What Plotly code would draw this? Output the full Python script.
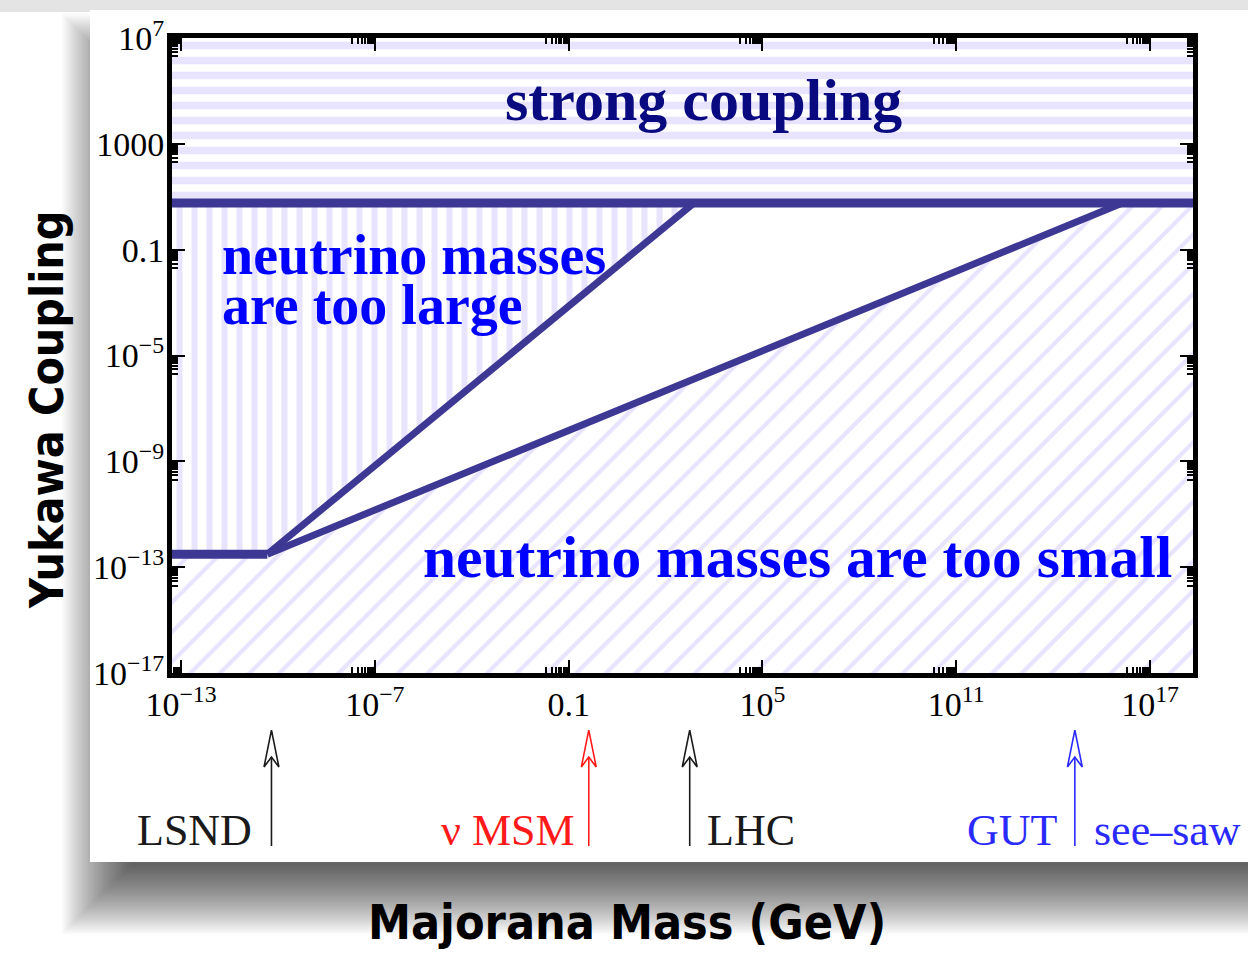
import numpy as np
import plotly.graph_objects as go

# ---- axis extents and ticks -------------------------------------------
mass_range = [10**-13.28, 10**18.33]      # Majorana mass, GeV
yuk_range = [1e-17, 1e7]                   # Yukawa coupling

x_tickvals = [1e-13, 1e-7, 1e-1, 1e5, 1e11, 1e17]
x_ticktext = ["10<sup>\u221213</sup>", "10<sup>\u22127</sup>", "0.1",
              "10<sup>5</sup>", "10<sup>11</sup>", "10<sup>17</sup>"]
y_tickvals = [1e-17, 1e-13, 1e-9, 1e-5, 1e-1, 1e3, 1e7]
y_ticktext = ["10<sup>\u221217</sup>", "10<sup>\u221213</sup>", "10<sup>\u22129</sup>",
              "10<sup>\u22125</sup>", "0.1", "1000", "10<sup>7</sup>"]

# ---- boundaries ---------------------------------------------------------
yuk_strong = 5.8                     # perturbativity limit
floor_mass = [mass_range[0], 4.7e-11]
floor_yuk = [3.1e-13, 3.1e-13]
large_mass = [4.7e-11, 7.6e2]        # above: neutrino masses too large
large_yuk = [3.1e-13, 5.8]
small_mass = [4.7e-11, 1.4e16]       # below: neutrino masses too small
small_yuk = [3.1e-13, 5.8]

# ---- physics scales marked under the axis ------------------------------
scale_names = ["LSND", "\u03bd MSM", "LHC", "GUT"]
scale_mass = [6.3e-11, 0.42, 5.6e2, 4.7e14]
scale_colors = ["#1a1a1a", "#ff1a1a", "#1a1a1a", "#2a2aff"]
scale_side = ["right", "right", "left", "right"]
scale_gap = [17, 12, 15, 15]

# ---- styling -------------------------------------------------------------
W, H = 1248, 955
ML, MR, MT, MB = 172, 55, 38, 85
PW, PH = W - ML - MR, H - MT - MB
LINE = "#3d3893"
STRIPE = "#d2c8ff"
SERIF = "Liberation Serif, Times New Roman, serif"
NARROW = "Liberation Sans Narrow, DejaVu Sans Condensed, Arial Narrow, sans-serif"


def fx(px):
    return (px - ML) / PW


def fy(py):
    return (H - MB - py) / PH


m0, m1 = mass_range
y0, y1 = yuk_range
fig = go.Figure()

# shaded regions
fig.add_trace(go.Scatter(
    x=[m0, m1, m1, m0], y=[yuk_strong, yuk_strong, y1, y1],
    fill="toself", mode="none", fillcolor="rgba(0,0,0,0)",
    fillpattern=dict(shape="-", fgcolor=STRIPE, bgcolor="white", size=15, solidity=0.5),
    hoverinfo="skip", showlegend=False))
fig.add_trace(go.Scatter(
    x=floor_mass + large_mass[1:] + [m0],
    y=floor_yuk + large_yuk[1:] + [yuk_strong],
    fill="toself", mode="none", fillcolor="rgba(0,0,0,0)",
    fillpattern=dict(shape="|", fgcolor=STRIPE, bgcolor="white", size=15, solidity=0.4),
    hoverinfo="skip", showlegend=False))
fig.add_trace(go.Scatter(
    x=[m0, m1, m1] + small_mass[::-1] + [m0],
    y=[y0, y0, yuk_strong] + small_yuk[::-1] + [floor_yuk[0]],
    fill="toself", mode="none", fillcolor="rgba(0,0,0,0)",
    fillpattern=dict(shape="/", fgcolor=STRIPE, bgcolor="white", size=21, solidity=0.2),
    hoverinfo="skip", showlegend=False))

# boundary lines
for xs, ys, w in [([m0, m1], [yuk_strong, yuk_strong], 9),
                  (floor_mass, floor_yuk, 9),
                  (large_mass, large_yuk, 7),
                  (small_mass, small_yuk, 7)]:
    fig.add_trace(go.Scatter(x=xs, y=ys, mode="lines",
                             line=dict(color=LINE, width=w),
                             hoverinfo="skip", showlegend=False))

# scale arrows with open heads, on a helper strip below the frame
tip, wing, notch, base = 0.933, 0.687, 0.753, 0.16
f = 10 ** 0.23
for m, c in zip(scale_mass, scale_colors):
    fig.add_trace(go.Scatter(
        x=[m, m, None, m, m * f, m, m / f, m],
        y=[base, notch, None, tip, wing, notch, wing, tip],
        mode="lines", line=dict(color=c, width=1.6),
        xaxis="x2", yaxis="y2", hoverinfo="skip", showlegend=False))

annotations = []
for name, m, c, side, gap in zip(scale_names, scale_mass, scale_colors, scale_side, scale_gap):
    annotations.append(dict(
        x=np.log10(m), y=0.265, xref="x", yref="y2", text=name, showarrow=False,
        xanchor="right" if side == "right" else "left", yanchor="middle",
        xshift=-gap if side == "right" else gap,
        font=dict(family=SERIF, size=44, color=c)))
annotations.append(dict(
    x=np.log10(scale_mass[3]), y=0.265, xref="x", yref="y2", text="see\u2013saw",
    showarrow=False, xanchor="left", yanchor="middle", xshift=17,
    font=dict(family=SERIF, size=44, color=scale_colors[3])))

# region labels
annotations += [
    dict(x=3.16, y=4.66, xref="x", yref="y", text="<b>strong coupling</b>",
         showarrow=False, xanchor="center", yanchor="middle",
         font=dict(family=SERIF, size=60, color="#0a0a80")),
    dict(x=-11.79, y=-1.2, xref="x", yref="y", text="<b>neutrino masses</b>",
         showarrow=False, xanchor="left", yanchor="middle",
         font=dict(family=SERIF, size=56, color="#0000ff")),
    dict(x=-11.79, y=-3.09, xref="x", yref="y", text="<b>are too large</b>",
         showarrow=False, xanchor="left", yanchor="middle",
         font=dict(family=SERIF, size=56, color="#0000ff")),
    dict(x=6.07, y=-12.62, xref="x", yref="y", text="<b>neutrino masses are too small</b>",
         showarrow=False, xanchor="center", yanchor="middle",
         font=dict(family=SERIF, size=59.5, color="#0000ff")),
]

# axis titles
annotations += [
    dict(x=fx(627), y=fy(922), xref="paper", yref="paper", text="<b>Majorana Mass (GeV)</b>",
         showarrow=False, xanchor="center", yanchor="middle",
         font=dict(family=NARROW, size=48, color="black")),
    dict(x=fx(47), y=fy(410), xref="paper", yref="paper", text="<b>Yukawa Coupling</b>",
         showarrow=False, textangle=-90, xanchor="center", yanchor="middle",
         font=dict(family=NARROW, size=46, color="black")),
]

# page backdrop: grey band, blurred drop shadow and the white card
shapes = [dict(type="rect", xref="paper", yref="paper", x0=fx(-5), x1=fx(1260),
               y0=fy(12), y1=fy(-5), fillcolor="#e4e4e4", line_width=0, layer="below")]
N, R = 30, 35
alpha = 1 - 0.43 ** (1 / N)
for k in range(N):
    r = -R + 2 * R * (k + 0.5) / N
    shapes.append(dict(type="rect", xref="paper", yref="paper",
                       x0=fx(96 - r), x1=fx(1300), y0=fy(900 + r), y1=fy(48 - r),
                       fillcolor=f"rgba(0,0,0,{alpha:.4f})", line_width=0, layer="below"))
shapes.append(dict(type="rect", xref="paper", yref="paper", x0=fx(90), x1=fx(1262),
                   y0=fy(862), y1=fy(10), fillcolor="white", line_width=0, layer="below"))

axis_common = dict(type="log", showgrid=False, zeroline=False, showline=True,
                   linecolor="black", linewidth=5, mirror="ticks",
                   ticks="inside", ticklen=13, tickwidth=2, tickcolor="black",
                   tickfont=dict(family=SERIF, size=34, color="black"))


def minor_vals(majors):
    return [k * v / 10 for v in majors for k in range(2, 10)]


fig.update_layout(
    width=W, height=H, autosize=False,
    margin=dict(l=ML, r=MR, t=MT, b=MB),
    paper_bgcolor="white", plot_bgcolor="white",
    xaxis=dict(**axis_common, range=[np.log10(m0), np.log10(m1)],
               tickvals=x_tickvals, ticktext=x_ticktext, anchor="y",
               ticklabelstandoff=-3,
               minor=dict(tickmode="array", tickvals=minor_vals(x_tickvals),
                          ticks="inside", ticklen=6, tickwidth=1.5, tickcolor="black")),
    yaxis=dict(**axis_common, range=[np.log10(y0), np.log10(y1)],
               tickvals=y_tickvals, ticktext=y_ticktext, domain=[fy(673), 1],
               ticklabelstandoff=-4,
               minor=dict(tickmode="array", tickvals=minor_vals(y_tickvals),
                          ticks="inside", ticklen=6, tickwidth=1.5, tickcolor="black")),
    xaxis2=dict(type="log", matches="x", anchor="y2", visible=False),
    yaxis2=dict(range=[0, 1], domain=[0, fy(720)], visible=False),
    shapes=shapes, annotations=annotations, showlegend=False,
)

fig.write_html("out.html")
